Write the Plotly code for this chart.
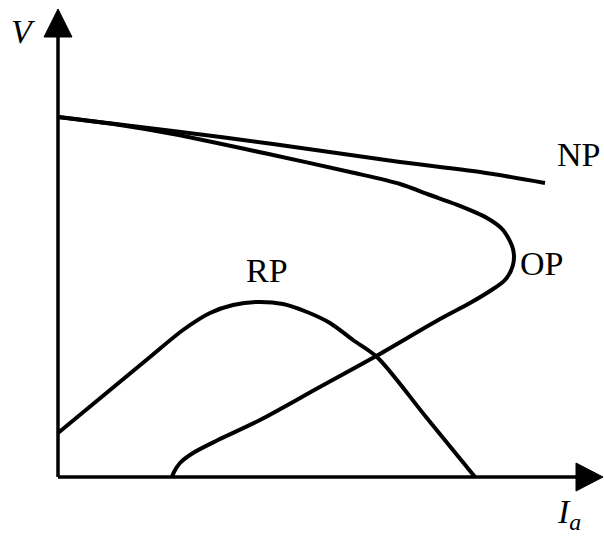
import plotly.graph_objects as go

# Operating curves: armature current Ia (x) versus voltage V (y), arbitrary units
np_ia = [0, 115, 215, 342, 422, 487]
np_v = [360, 346, 333, 315, 305, 294]

op_ia = [0, 62, 115, 215, 292, 342, 372, 397, 429, 445, 455, 455, 447, 432, 412, 382,
         320, 260, 202, 160, 135, 122, 116, 114]
op_v = [360, 352, 343, 322, 305, 293, 282, 273, 259, 247, 228, 212, 197, 186, 174, 158,
        122, 89, 57, 37, 24, 14, 5, 0]

rp_ia = [0, 46, 92, 125, 152, 175, 199, 225, 249, 272, 295, 319, 368, 417]
rp_v = [44, 82, 120, 147, 164, 172, 175, 173, 165, 154, 137, 120, 60, 0]

curve_names = ["NP", "OP", "RP"]

# Axis extents (arrow bases and tips)
x_axis_end, x_axis_tip = 518, 545
y_axis_end, y_axis_tip = 440, 468
head_half = 14

line_style = dict(color="black", width=4, shape="spline", smoothing=0.85)

fig = go.Figure()
for name, xs, ys in zip(curve_names, [np_ia, op_ia, rp_ia], [np_v, op_v, rp_v]):
    fig.add_trace(go.Scatter(x=xs, y=ys, mode="lines", name=name,
                             line=line_style, hoverinfo="skip"))

# Axis lines with arrowheads
fig.add_shape(type="line", x0=0, y0=0, x1=x_axis_end, y1=0,
              line=dict(color="black", width=3.5))
fig.add_shape(type="line", x0=0, y0=0, x1=0, y1=y_axis_end,
              line=dict(color="black", width=3.5))
fig.add_shape(type="path",
              path=f"M {x_axis_end} {-head_half} L {x_axis_tip} 0 L {x_axis_end} {head_half} Z",
              fillcolor="black", line=dict(color="black", width=1))
fig.add_shape(type="path",
              path=f"M {-head_half} {y_axis_end} L 0 {y_axis_tip} L {head_half} {y_axis_end} Z",
              fillcolor="black", line=dict(color="black", width=1))

label_font = dict(family="Liberation Serif", size=34, color="black")
fig.add_annotation(x=-35, y=446, text="<i>V</i>", showarrow=False, font=label_font)
fig.add_annotation(x=497, y=-37, text="<i>I<sub>a</sub></i>", showarrow=False,
                   font=label_font, xanchor="left")
fig.add_annotation(x=497, y=323, text="NP", showarrow=False, font=label_font, xanchor="left")
fig.add_annotation(x=460, y=214, text="OP", showarrow=False, font=label_font, xanchor="left")
fig.add_annotation(x=209, y=207, text="RP", showarrow=False, font=label_font)

fig.update_layout(
    width=604, height=536,
    margin=dict(l=0, r=0, t=0, b=0),
    paper_bgcolor="white", plot_bgcolor="white",
    showlegend=False,
    xaxis=dict(range=[-58, 546], visible=False, fixedrange=True),
    yaxis=dict(range=[-59, 477], visible=False, fixedrange=True),
)

fig.write_html("out.html")
